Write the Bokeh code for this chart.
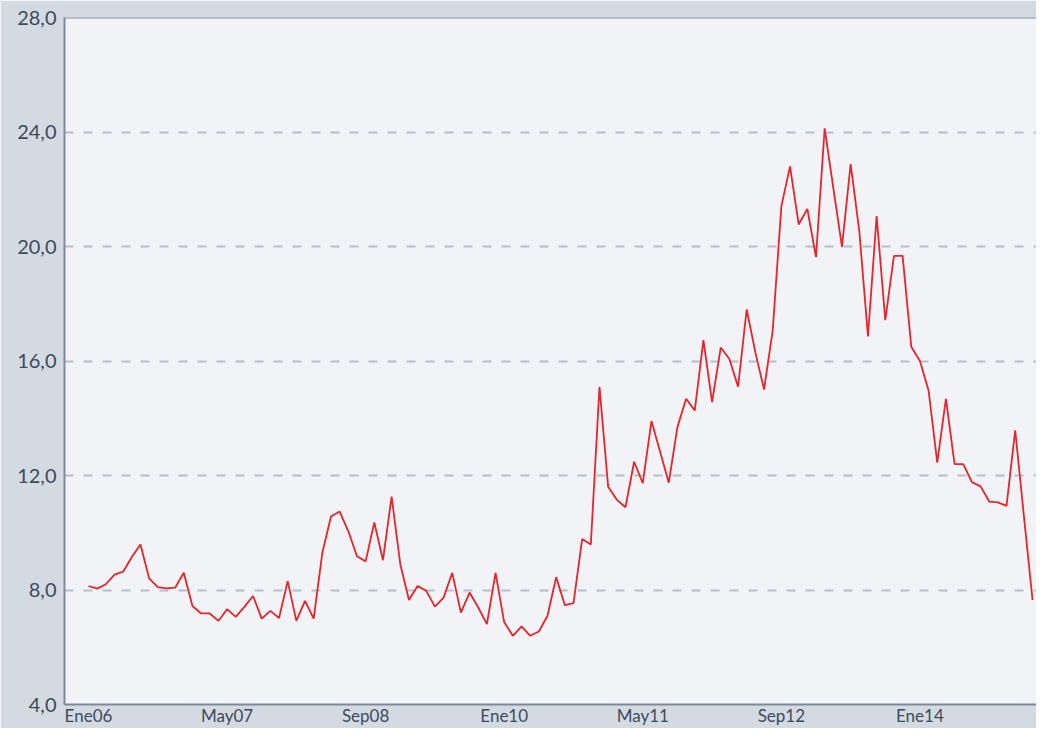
from bokeh.plotting import figure
from bokeh.models import FixedTicker, Range1d, Span, ColumnDataSource
from bokeh.embed import file_html
from bokeh.resources import INLINE

# Monthly values, Jan 2006 .. Feb 2015
values = [
    8.14, 8.05, 8.20, 8.54, 8.64, 9.15, 9.59, 8.41, 8.10, 8.06, 8.08, 8.60,
    7.44, 7.18, 7.18, 6.92, 7.33, 7.06, 7.41, 7.79, 7.00, 7.27, 7.02, 8.31,
    6.92, 7.62, 7.00, 9.30, 10.57, 10.74, 10.05, 9.18, 9.00, 10.36, 9.04, 11.26,
    8.90, 7.65, 8.14, 7.97, 7.42, 7.73, 8.60, 7.21, 7.91, 7.39, 6.81, 8.60,
    6.87, 6.40, 6.73, 6.40, 6.55, 7.10, 8.45, 7.47, 7.54, 9.78, 9.59, 15.10,
    11.61, 11.15, 10.89, 12.48, 11.73, 13.90, 12.83, 11.75, 13.69, 14.68, 14.27, 16.73,
    14.56, 16.47, 16.07, 15.10, 17.80, 16.30, 15.00, 17.06, 21.40, 22.80, 20.77, 21.31,
    19.63, 24.13, 22.04, 19.99, 22.88, 20.54, 16.86, 21.06, 17.43, 19.67, 19.67, 16.50,
    16.00, 14.97, 12.45, 14.68, 12.40, 12.40, 11.77, 11.62, 11.09, 11.06, 10.94, 13.58,
    10.60, 7.65,
]
months = list(range(len(values)))

x_tick_pos = [0, 16, 32, 48, 64, 80, 96]
x_tick_labels = ["Ene06", "May07", "Sep08", "Ene10", "May11", "Sep12", "Ene14"]
y_ticks = [4, 8, 12, 16, 20, 24, 28]
y_tick_labels = ["4,0", "8,0", "12,0", "16,0", "20,0", "24,0", "28,0"]
grid_ticks = [8, 12, 16, 20, 24]

src = ColumnDataSource(dict(x=months, y=values))

FONT = "Lato"
TEXT = "#3d4a5d"
BORDER = "#7d899a"

p = figure(width=1036, height=728, output_backend="svg", toolbar_location=None,
           x_range=Range1d(-2.77, 109.46), y_range=Range1d(4, 28),
           min_border_left=64, min_border_right=0, min_border_top=17,
           min_border_bottom=20)
p.background_fill_color = "#f1f3f6"
p.border_fill_color = "#d4dae2"
p.outline_line_color = None

p.line("x", "y", source=src, line_color="#e8242c", line_width=1.8)

# axes
p.xaxis.ticker = FixedTicker(ticks=x_tick_pos)
p.xaxis.major_label_overrides = {k: v for k, v in zip(x_tick_pos, x_tick_labels)}
p.yaxis.ticker = FixedTicker(ticks=y_ticks)
p.yaxis.major_label_overrides = {k: v for k, v in zip(y_ticks, y_tick_labels)}
for ax in (p.xaxis, p.yaxis):
    ax.axis_line_color = BORDER
    ax.axis_line_width = 2
    ax.major_tick_line_color = None
    ax.minor_tick_line_color = None
    ax.major_tick_out = 0
    ax.major_tick_in = 0
    ax.major_label_text_font = FONT
    ax.major_label_text_color = TEXT
p.yaxis.major_label_text_font_size = "20px"
p.xaxis.major_label_text_font_size = "17px"
p.xaxis.major_label_standoff = 0
p.yaxis.major_label_standoff = 8

# grid
p.xgrid.grid_line_color = None
p.ygrid.ticker = FixedTicker(ticks=grid_ticks)
p.ygrid.grid_line_color = "#b6bec9"
p.ygrid.grid_line_width = 2
p.ygrid.grid_line_dash = "9 10"

# top border of plot area
p.add_layout(Span(location=28, dimension="width", line_color=BORDER, line_width=2))

open("out.html", "w").write(file_html(p, INLINE))
